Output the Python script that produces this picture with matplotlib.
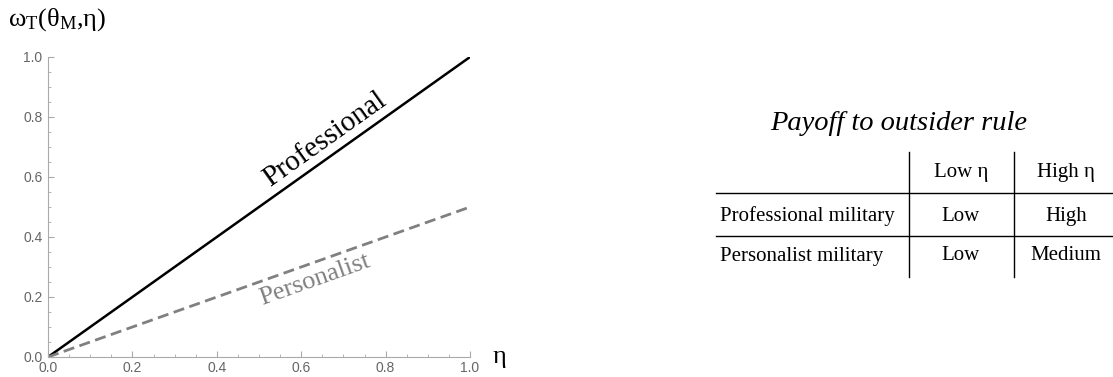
import numpy as np
import matplotlib
matplotlib.use("Agg")
from matplotlib import pyplot as plt
from matplotlib.lines import Line2D
from matplotlib import transforms

# line data
eta = [0.0, 1.0]
professional = [0.0, 1.0]
personalist = [0.0, 0.5]

# table data
table_title = "Payoff to outsider rule"
col_labels = ["Low η", "High η"]
row_labels = ["Professional military", "Personalist military"]
cells = [["Low", "High"], ["Low", "Medium"]]

plt.rcParams['mathtext.fontset'] = 'custom'
plt.rcParams['mathtext.rm'] = 'Liberation Serif'
plt.rcParams['mathtext.it'] = 'Liberation Serif:italic'

fig = plt.figure(figsize=(11.13, 3.77), dpi=100)
W, H = 1113.0, 377.0
ax = fig.add_axes([48 / W, 20 / H, 422 / W, 300 / H])

ax.plot(eta, professional, color='black', lw=1.8, solid_capstyle='butt')
ax.plot(eta, personalist, color='#808080', lw=2.0, ls=(0, (4, 2)))

ax.set_xlim(0, 1)
ax.set_ylim(0, 1)
ax.set_xticks(np.arange(0, 1.01, 0.2))
ax.set_yticks(np.arange(0, 1.01, 0.2))
ax.set_xticks(np.arange(0, 1.01, 0.05), minor=True)
ax.set_yticks(np.arange(0, 1.01, 0.05), minor=True)
ax.xaxis.set_major_formatter(matplotlib.ticker.FormatStrFormatter('%.1f'))
ax.yaxis.set_major_formatter(matplotlib.ticker.FormatStrFormatter('%.1f'))
for s in ['top', 'right']:
    ax.spines[s].set_visible(False)
for s in ['left', 'bottom']:
    ax.spines[s].set_color('#aaaaaa')
    ax.spines[s].set_linewidth(0.8)
ax.tick_params(which='major', direction='in', length=4, width=0.8, color='#aaaaaa',
               labelsize=10, labelcolor='#666666')
ax.tick_params(axis='x', which='major', pad=3)
ax.tick_params(axis='y', which='major', pad=4)
ax.tick_params(which='minor', direction='in', length=2.2, width=0.6, color='#aaaaaa')
for lab in ax.get_xticklabels() + ax.get_yticklabels():
    lab.set_fontfamily('Liberation Sans')

# axis labels
fig.text(8 / W, 1 - 20 / H, r'$\mathrm{ω}_\mathrm{T}(\mathrm{θ}_\mathrm{M}{,}\mathrm{η})$',
         fontsize=19, ha='left', va='center')
ax.annotate('η', xy=(1, 0), xycoords='axes fraction', xytext=(16, 0),
            textcoords='offset points', fontsize=19, family='Liberation Serif',
            ha='left', va='center')

# in-line labels
def line_angle(x0, y0, x1, y1):
    p0 = ax.transData.transform((x0, y0))
    p1 = ax.transData.transform((x1, y1))
    return np.degrees(np.arctan2(p1[1] - p0[1], p1[0] - p0[0]))

a1 = line_angle(eta[0], professional[0], eta[1], professional[1])
a2 = line_angle(eta[0], personalist[0], eta[1], personalist[1])

xp = 0.68
ax.text(xp, np.interp(xp, eta, professional), 'Professional', rotation=a1,
        rotation_mode='anchor', ha='center', va='bottom', fontsize=21,
        family='Liberation Serif', color='black',
        transform=ax.transData + transforms.ScaledTranslation(
            -np.sin(np.radians(a1)) * 3 / 72, np.cos(np.radians(a1)) * 3 / 72,
            fig.dpi_scale_trans))
xq = 0.62
ax.text(xq, np.interp(xq, eta, personalist), 'Personalist', rotation=a2,
        rotation_mode='anchor', ha='center', va='top', fontsize=19,
        family='Liberation Serif', color='#808080',
        transform=ax.transData + transforms.ScaledTranslation(
            np.sin(np.radians(a2)) * 4 / 72, -np.cos(np.radians(a2)) * 4 / 72,
            fig.dpi_scale_trans))

# table on the right
def fx(px):
    return px / W

def fy(py):
    return 1 - py / H

fig.text(fx(899), fy(124), table_title, fontsize=20.5, style='italic',
         family='Liberation Serif', ha='center', va='center')

col_x = [805, 961, 1066]
row_y = [173, 216, 256]
for j, lab in enumerate(col_labels):
    fig.text(fx(col_x[j + 1]), fy(row_y[0]), lab, fontsize=15,
             family='Liberation Serif', ha='center', va='center')
for i, lab in enumerate(row_labels):
    fig.text(fx(720), fy(row_y[i + 1]), lab, fontsize=15,
             family='Liberation Serif', ha='left', va='center')
    for j, val in enumerate(cells[i]):
        fig.text(fx(col_x[j + 1]), fy(row_y[i + 1]), val, fontsize=15,
                 family='Liberation Serif', ha='center', va='center')

for xv in [909, 1014]:
    fig.add_artist(Line2D([fx(xv), fx(xv)], [fy(152), fy(277)], color='black', lw=1.0))
for yv in [193, 236]:
    fig.add_artist(Line2D([fx(716), fx(1113)], [fy(yv), fy(yv)], color='black', lw=1.0))

fig.savefig('out.png', dpi=100)
